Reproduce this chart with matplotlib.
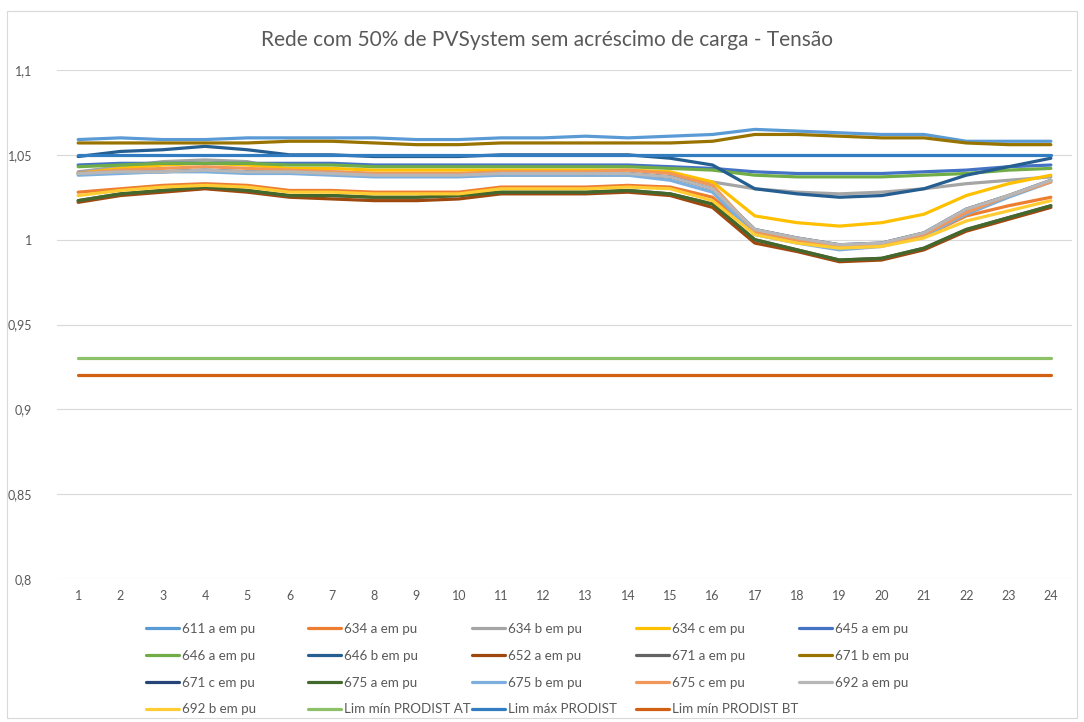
import matplotlib
matplotlib.use("Agg")
import matplotlib.pyplot as plt
from matplotlib.patches import Rectangle

plt.rcParams['font.family'] = ['Lato', 'DejaVu Sans']

hours = list(range(1, 25))

s611a = [1.059, 1.060, 1.059, 1.059, 1.060, 1.060, 1.060, 1.060, 1.059, 1.059, 1.060, 1.060,
         1.061, 1.060, 1.061, 1.062, 1.065, 1.064, 1.063, 1.062, 1.062, 1.058, 1.058, 1.058]
s634a = [1.028, 1.030, 1.032, 1.033, 1.032, 1.029, 1.029, 1.028, 1.028, 1.028, 1.031, 1.031,
         1.031, 1.032, 1.031, 1.025, 1.004, 0.999, 0.996, 0.997, 1.002, 1.014, 1.020, 1.025]
s634b = [1.040, 1.043, 1.046, 1.047, 1.046, 1.041, 1.040, 1.039, 1.038, 1.038, 1.038, 1.038,
         1.038, 1.038, 1.037, 1.034, 1.030, 1.028, 1.027, 1.028, 1.030, 1.033, 1.035, 1.037]
s634c = [1.039, 1.042, 1.044, 1.045, 1.044, 1.042, 1.042, 1.041, 1.041, 1.041, 1.041, 1.041,
         1.041, 1.041, 1.040, 1.034, 1.014, 1.010, 1.008, 1.010, 1.015, 1.026, 1.033, 1.038]
s645a = [1.044, 1.045, 1.045, 1.045, 1.045, 1.045, 1.045, 1.044, 1.044, 1.044, 1.044, 1.044,
         1.044, 1.044, 1.043, 1.042, 1.040, 1.039, 1.039, 1.039, 1.040, 1.041, 1.043, 1.044]
s646a = [1.043, 1.044, 1.045, 1.045, 1.045, 1.044, 1.044, 1.043, 1.043, 1.043, 1.043, 1.043,
         1.043, 1.043, 1.042, 1.041, 1.038, 1.037, 1.037, 1.037, 1.038, 1.039, 1.041, 1.042]
s646b = [1.049, 1.052, 1.053, 1.055, 1.053, 1.050, 1.050, 1.049, 1.049, 1.049, 1.050, 1.050,
         1.050, 1.050, 1.048, 1.044, 1.030, 1.027, 1.025, 1.026, 1.030, 1.038, 1.043, 1.048]
s652a = [1.022, 1.026, 1.028, 1.030, 1.028, 1.025, 1.024, 1.023, 1.023, 1.024, 1.027, 1.027,
         1.027, 1.028, 1.026, 1.019, 0.998, 0.993, 0.987, 0.988, 0.994, 1.005, 1.012, 1.019]
s671a = [1.023, 1.027, 1.029, 1.031, 1.029, 1.026, 1.026, 1.025, 1.025, 1.026, 1.028, 1.028,
         1.028, 1.029, 1.027, 1.021, 1.000, 0.994, 0.988, 0.989, 0.995, 1.006, 1.013, 1.020]
s671b = [1.057, 1.057, 1.057, 1.057, 1.057, 1.058, 1.058, 1.057, 1.056, 1.056, 1.057, 1.057,
         1.057, 1.057, 1.057, 1.058, 1.062, 1.062, 1.061, 1.060, 1.060, 1.057, 1.056, 1.056]
s671c = [1.039, 1.040, 1.040, 1.041, 1.040, 1.040, 1.039, 1.038, 1.038, 1.038, 1.039, 1.039,
         1.039, 1.039, 1.037, 1.030, 1.006, 1.001, 0.997, 0.998, 1.004, 1.018, 1.026, 1.035]
s675a = [1.023, 1.027, 1.029, 1.031, 1.029, 1.026, 1.026, 1.025, 1.025, 1.026, 1.028, 1.028,
         1.028, 1.029, 1.027, 1.021, 1.000, 0.994, 0.988, 0.989, 0.995, 1.006, 1.013, 1.020]
s675b = [1.038, 1.039, 1.040, 1.040, 1.039, 1.039, 1.038, 1.037, 1.037, 1.037, 1.038, 1.038,
         1.038, 1.038, 1.035, 1.028, 1.003, 0.998, 0.994, 0.996, 1.002, 1.015, 1.025, 1.034]
s675c = [1.039, 1.041, 1.042, 1.043, 1.042, 1.041, 1.040, 1.039, 1.039, 1.039, 1.040, 1.040,
         1.040, 1.041, 1.039, 1.032, 1.005, 1.000, 0.996, 0.997, 1.003, 1.016, 1.026, 1.034]
s692a = [1.039, 1.040, 1.040, 1.041, 1.040, 1.040, 1.039, 1.038, 1.038, 1.038, 1.039, 1.039,
         1.039, 1.039, 1.037, 1.030, 1.006, 1.001, 0.997, 0.998, 1.004, 1.018, 1.026, 1.035]
s692b = [1.026, 1.029, 1.031, 1.032, 1.031, 1.028, 1.028, 1.027, 1.027, 1.027, 1.030, 1.030,
         1.030, 1.031, 1.030, 1.023, 1.003, 0.998, 0.995, 0.996, 1.001, 1.011, 1.017, 1.023]
lim_min_at = [0.93] * 24
lim_max = [1.05] * 24
lim_min_bt = [0.92] * 24

labels = ["611 a em pu", "634 a em pu", "634 b em pu", "634 c em pu", "645 a em pu",
          "646 a em pu", "646 b em pu", "652 a em pu", "671 a em pu", "671 b em pu",
          "671 c em pu", "675 a em pu", "675 b em pu", "675 c em pu", "692 a em pu",
          "692 b em pu", "Lim mín PRODIST AT", "Lim máx PRODIST", "Lim mín PRODIST BT"]
series = [s611a, s634a, s634b, s634c, s645a, s646a, s646b, s652a, s671a, s671b,
          s671c, s675a, s675b, s675c, s692a, s692b, lim_min_at, lim_max, lim_min_bt]
colors = ["#5B9BD5", "#ED7D31", "#A5A5A5", "#FFC000", "#4472C4", "#70AD47",
          "#255E91", "#9E480E", "#636363", "#997300", "#264478", "#43682B",
          "#7CAFDD", "#F1975A", "#B7B7B7", "#FFCD33", "#8CC168", "#327DC2", "#D26012"]

yticks = [0.8, 0.85, 0.9, 0.95, 1.0, 1.05, 1.1]
ytick_labels = ["0,8", "0,85", "0,9", "0,95", "1", "1,05", "1,1"]

fig = plt.figure(figsize=(10.84, 7.22), dpi=100)
fig.patches.append(Rectangle((7 / 1084, 0.005), 1 - 14 / 1084, 1 - 11 / 722 - 0.005,
                             transform=fig.transFigure, fill=False,
                             edgecolor="#D9D9D9", linewidth=0.8))
ax = fig.add_axes([57 / 1084, 1 - 579 / 722, (1072 - 57) / 1084, (579 - 70) / 722])

handles = []
for vals, lab, col in zip(series, labels, colors):
    h, = ax.plot(hours, vals, color=col, linewidth=2.3, label=lab, solid_capstyle='round')
    handles.append(h)

ax.set_xlim(0.5, 24.5)
ax.set_ylim(0.8, 1.1)
ax.set_xticks(hours)
ax.set_xticklabels([str(h) for h in hours])
ax.set_yticks(yticks)
ax.set_yticklabels(ytick_labels)
ax.grid(axis='y', color="#D9D9D9", linewidth=0.8)
ax.set_axisbelow(True)
for sp in ax.spines.values():
    sp.set_visible(False)
ax.tick_params(axis='both', length=0, labelsize=9, labelcolor="#595959")
ax.tick_params(axis='y', pad=18)
ax.tick_params(axis='x', pad=8)

fig.text(0.505, 1 - 40 / 722, "Rede com 50% de PVSystem sem acréscimo de carga - Tensão",
         ha='center', va='center', fontsize=15, color="#595959")

col_x = [146, 308, 472, 636, 799]
for c in range(5):
    idx = list(range(c, 19, 5))
    leg = fig.legend([handles[i] for i in idx], [labels[i] for i in idx],
                     loc='upper left', bbox_to_anchor=(col_x[c] / 1084, 1 - 623 / 722),
                     frameon=False, fontsize=9.6, handlelength=2.48, handletextpad=0.25,
                     labelspacing=1.11, borderaxespad=0, borderpad=0)
    for t in leg.get_texts():
        t.set_color("#595959")

fig.savefig("out.png", dpi=100)
